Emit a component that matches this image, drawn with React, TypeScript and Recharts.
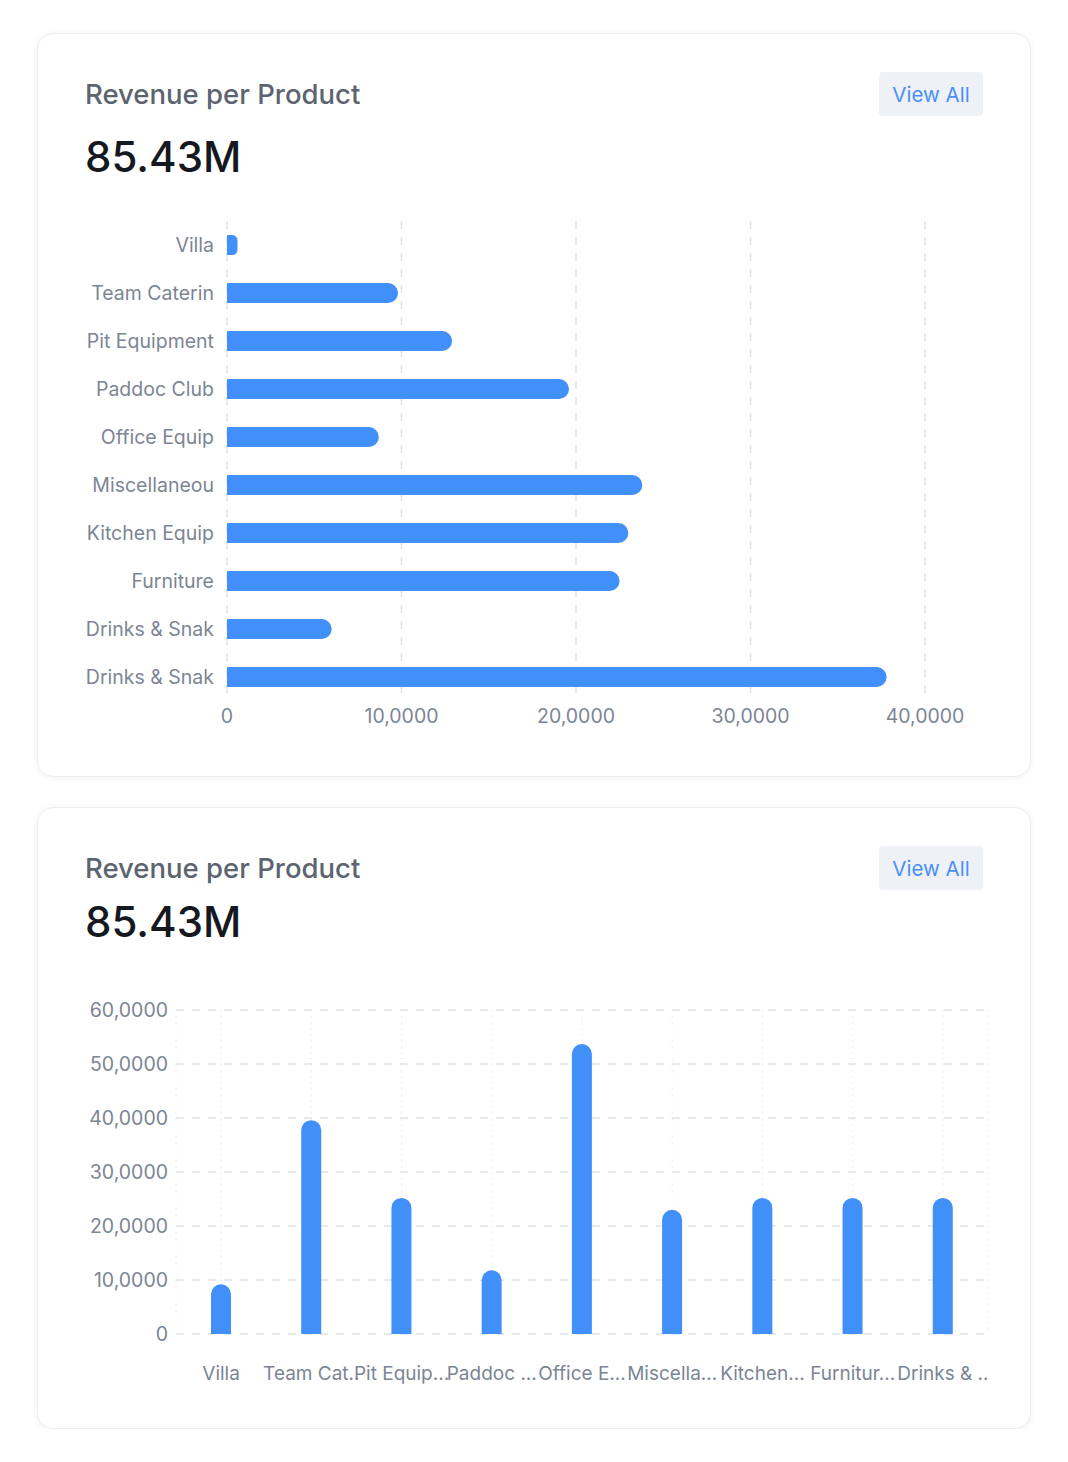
import { Bar, BarChart, CartesianGrid, XAxis, YAxis } from "recharts";

// top card – horizontal bars
const hCategories = [
  "Villa",
  "Team Caterin",
  "Pit Equipment",
  "Paddoc Club",
  "Office Equip",
  "Miscellaneou",
  "Kitchen Equip",
  "Furniture",
  "Drinks & Snak",
  "Drinks & Snak",
];
const hValues = [6000, 98000, 129000, 196000, 87000, 238000, 230000, 225000, 60000, 378000];
const hTicks = [0, 100000, 200000, 300000, 400000];

// bottom card – vertical bars
const vCategories = [
  "Villa",
  "Team Cat..",
  "Pit Equip...",
  "Paddoc ...",
  "Office E...",
  "Miscella...",
  "Kitchen...",
  "Furnitur...",
  "Drinks & ..",
];
const vValues = [92000, 396000, 252000, 118000, 537000, 230000, 252000, 252000, 252000];
const vTicks = [0, 100000, 200000, 300000, 400000, 500000, 600000];

const hData = hCategories.map((name, i) => ({ id: i, name, value: hValues[i] }));
const vData = vCategories.map((name, i) => ({ name, value: vValues[i] }));

const FONT = "Inter, 'Noto Sans', sans-serif";
const BLUE = "#4190fa";
const TICK = { fill: "#7c8594", fontSize: 19.5, fontFamily: FONT };
const VTICK = { ...TICK, fontSize: 19 };

const fmt = (v: number) => (v === 0 ? "0" : `${v / 10000},0000`);

const cardStyle: React.CSSProperties = {
  boxSizing: "border-box",
  width: 994,
  background: "#fff",
  border: "1px solid #eceef2",
  borderRadius: 16,
  boxShadow: "0 1px 6px rgba(20, 30, 50, 0.06)",
  padding: "38px 47px 0 47px",
  fontFamily: FONT,
};

function Header({ gap }: { gap: number }) {
  return (
    <>
      <div style={{ display: "flex", alignItems: "center", justifyContent: "space-between", height: 44 }}>
        <span style={{ fontSize: 27.5, color: "#5c6470", fontWeight: 500 }}>Revenue per Product</span>
        <span
          style={{
            background: "#eef2f7",
            color: "#4a8ff5",
            fontSize: 20.5,
            borderRadius: 4,
            height: 44,
            width: 104,
            display: "flex",
            alignItems: "center",
            justifyContent: "center",
          }}
        >
          View All
        </span>
      </div>
      <div style={{ marginTop: gap, fontSize: 42, lineHeight: "52px", fontWeight: 500, color: "#15181f" }}>85.43M</div>
    </>
  );
}

export default function App() {
  return (
    <div style={{ padding: "25px 0 0 29px" }}>
      <div style={{ ...cardStyle, height: 744 }}>
        <Header gap={15} />
        <div style={{ marginTop: 22 }}>
          <BarChart
            width={899}
            height={526}
            data={hData}
            layout="vertical"
            margin={{ top: 16, right: 59, left: 0, bottom: 0 }}
          >
            <CartesianGrid horizontal={false} stroke="#dfe2e7" strokeWidth={1.5} strokeDasharray="8 8" />
            <XAxis
              type="number"
              domain={[0, 400000]}
              ticks={hTicks}
              tickFormatter={fmt}
              tick={TICK}
              tickLine={false}
              axisLine={false}
              height={30}
              tickMargin={2}
            />
            <YAxis
              type="category"
              dataKey="id"
              tickFormatter={(i: number) => hCategories[i]}
              tick={TICK}
              tickLine={false}
              axisLine={false}
              width={142}
              tickMargin={7}
              interval={0}
            />
            <Bar dataKey="value" fill={BLUE} barSize={20} radius={[0, 10, 10, 0]} isAnimationActive={false} />
          </BarChart>
        </div>
      </div>

      <div style={{ ...cardStyle, height: 622, marginTop: 30 }}>
        <Header gap={6} />
        <div style={{ marginTop: 42 }}>
          <BarChart width={925} height={404} data={vData} margin={{ top: 20, right: 22, left: 0, bottom: 0 }}>
            <CartesianGrid vertical={false} stroke="#dfe2e7" strokeWidth={1.5} strokeDasharray="8 8" />
            <CartesianGrid horizontal={false} stroke="#eceef2" strokeDasharray="2 4" />
            <XAxis
              dataKey="name"
              tick={VTICK}
              tickLine={false}
              axisLine={false}
              interval={0}
              height={60}
              tickMargin={27}
            />
            <YAxis
              domain={[0, 600000]}
              ticks={vTicks}
              tickFormatter={fmt}
              tick={TICK}
              tickLine={false}
              axisLine={false}
              width={91}
            />
            <Bar dataKey="value" fill={BLUE} barSize={20} radius={[10, 10, 0, 0]} isAnimationActive={false} />
          </BarChart>
        </div>
      </div>
    </div>
  );
}
